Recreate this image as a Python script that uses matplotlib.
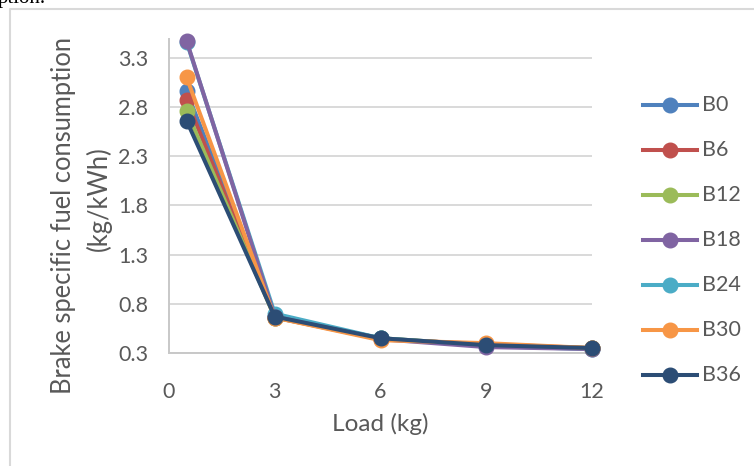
import numpy as np
import matplotlib
matplotlib.use("Agg")
import matplotlib.pyplot as plt
from matplotlib.lines import Line2D

plt.rcParams['font.family'] = ['Lato', 'DejaVu Sans']

# brake specific fuel consumption (kg/kWh) against load (kg)
load = [0.5, 3, 6, 9, 12]
blends = ['B0', 'B6', 'B12', 'B18', 'B24', 'B30', 'B36']
b0 = [2.96, 0.67, 0.45, 0.38, 0.35]
b6 = [2.87, 0.66, 0.44, 0.39, 0.35]
b12 = [2.76, 0.66, 0.45, 0.38, 0.35]
b18 = [3.47, 0.67, 0.44, 0.36, 0.34]
b24 = [3.46, 0.70, 0.45, 0.37, 0.34]
b30 = [3.10, 0.66, 0.43, 0.40, 0.35]
b36 = [2.66, 0.67, 0.45, 0.38, 0.35]
yticks = [0.3, 0.8, 1.3, 1.8, 2.3, 2.8, 3.3]
xticks = [0, 3, 6, 9, 12]

series = [b0, b6, b12, b18, b24, b30, b36]
colors = ['#4F81BD', '#C0504D', '#9BBB59', '#8064A2', '#4BACC6', '#F79646', '#2C4D75']
zorders = [3, 4, 5, 7, 6, 8, 9]
txt = '#595959'
fs = 15.5        # tick and legend text
fs_title = 17.6  # x axis title
fs_y = 18.4      # y axis title

W, H = 754, 466
fig = plt.figure(figsize=(W / 100, H / 100), dpi=100)
ax = fig.add_axes([169 / W, 1 - 353 / H, (592 - 169) / W, (353 - 39) / H])

for vals, c, z, name in zip(series, colors, zorders, blends):
    ax.plot(load, vals, color=c, lw=2.9, marker='o', ms=10.5, zorder=z,
            label=name, solid_capstyle='round', clip_on=False)

ax.set_xlim(0, 12)
ax.set_ylim(0.3, 3.49)
ax.set_xticks(xticks)
ax.set_yticks(yticks)
ax.set_yticklabels([f'{v:.1f}' for v in yticks])
ax.tick_params(length=0, labelsize=fs, colors=txt)
ax.tick_params(axis='y', pad=15)
ax.tick_params(axis='x', pad=21)
ax.grid(axis='y', color='#D9D9D9', lw=1.4)
ax.set_axisbelow(True)
for s in ['top', 'right']:
    ax.spines[s].set_visible(False)
for s in ['left', 'bottom']:
    ax.spines[s].set_color('#C8C8C8')
    ax.spines[s].set_linewidth(1.4)

fig.text(380 / W, 1 - 424 / H, 'Load (kg)', ha='center', va='center',
         fontsize=fs_title, color=txt)

# two-line y title, each line centred on its own
fig.text(64 / W, 1 - 215 / H, 'Brake specific fuel consumption',
         ha='center', va='center', rotation=90, fontsize=fs_y, color=txt)
fig.text(99 / W, 1 - 199 / H, '(kg/kWh)',
         ha='center', va='center', rotation=90, fontsize=fs_y, color=txt)

# legend entries stacked down the right side
for i, (name, c) in enumerate(zip(blends, colors)):
    y = 1 - (105 + 45 * i) / H
    fig.add_artist(Line2D([643 / W, 697 / W], [y, y], color=c, lw=2.9,
                          transform=fig.transFigure))
    fig.add_artist(Line2D([670 / W], [y], color=c, marker='o', ms=10.5,
                          transform=fig.transFigure))
    fig.text(702 / W, y, name, ha='left', va='center', fontsize=fs, color=txt)

# chart frame and the tail of the caption above it
fig.add_artist(Line2D([10 / W, 10 / W, 1.01], [-0.01, 1 - 9 / H, 1 - 9 / H],
                      color='#D9D9D9', lw=1.5, transform=fig.transFigure))
fig.text(-2 / W, 1 - 3 / H, 'ption.', ha='left', va='baseline',
         fontsize=15, family='Liberation Serif', color='black')

fig.savefig('out.png', dpi=100)
